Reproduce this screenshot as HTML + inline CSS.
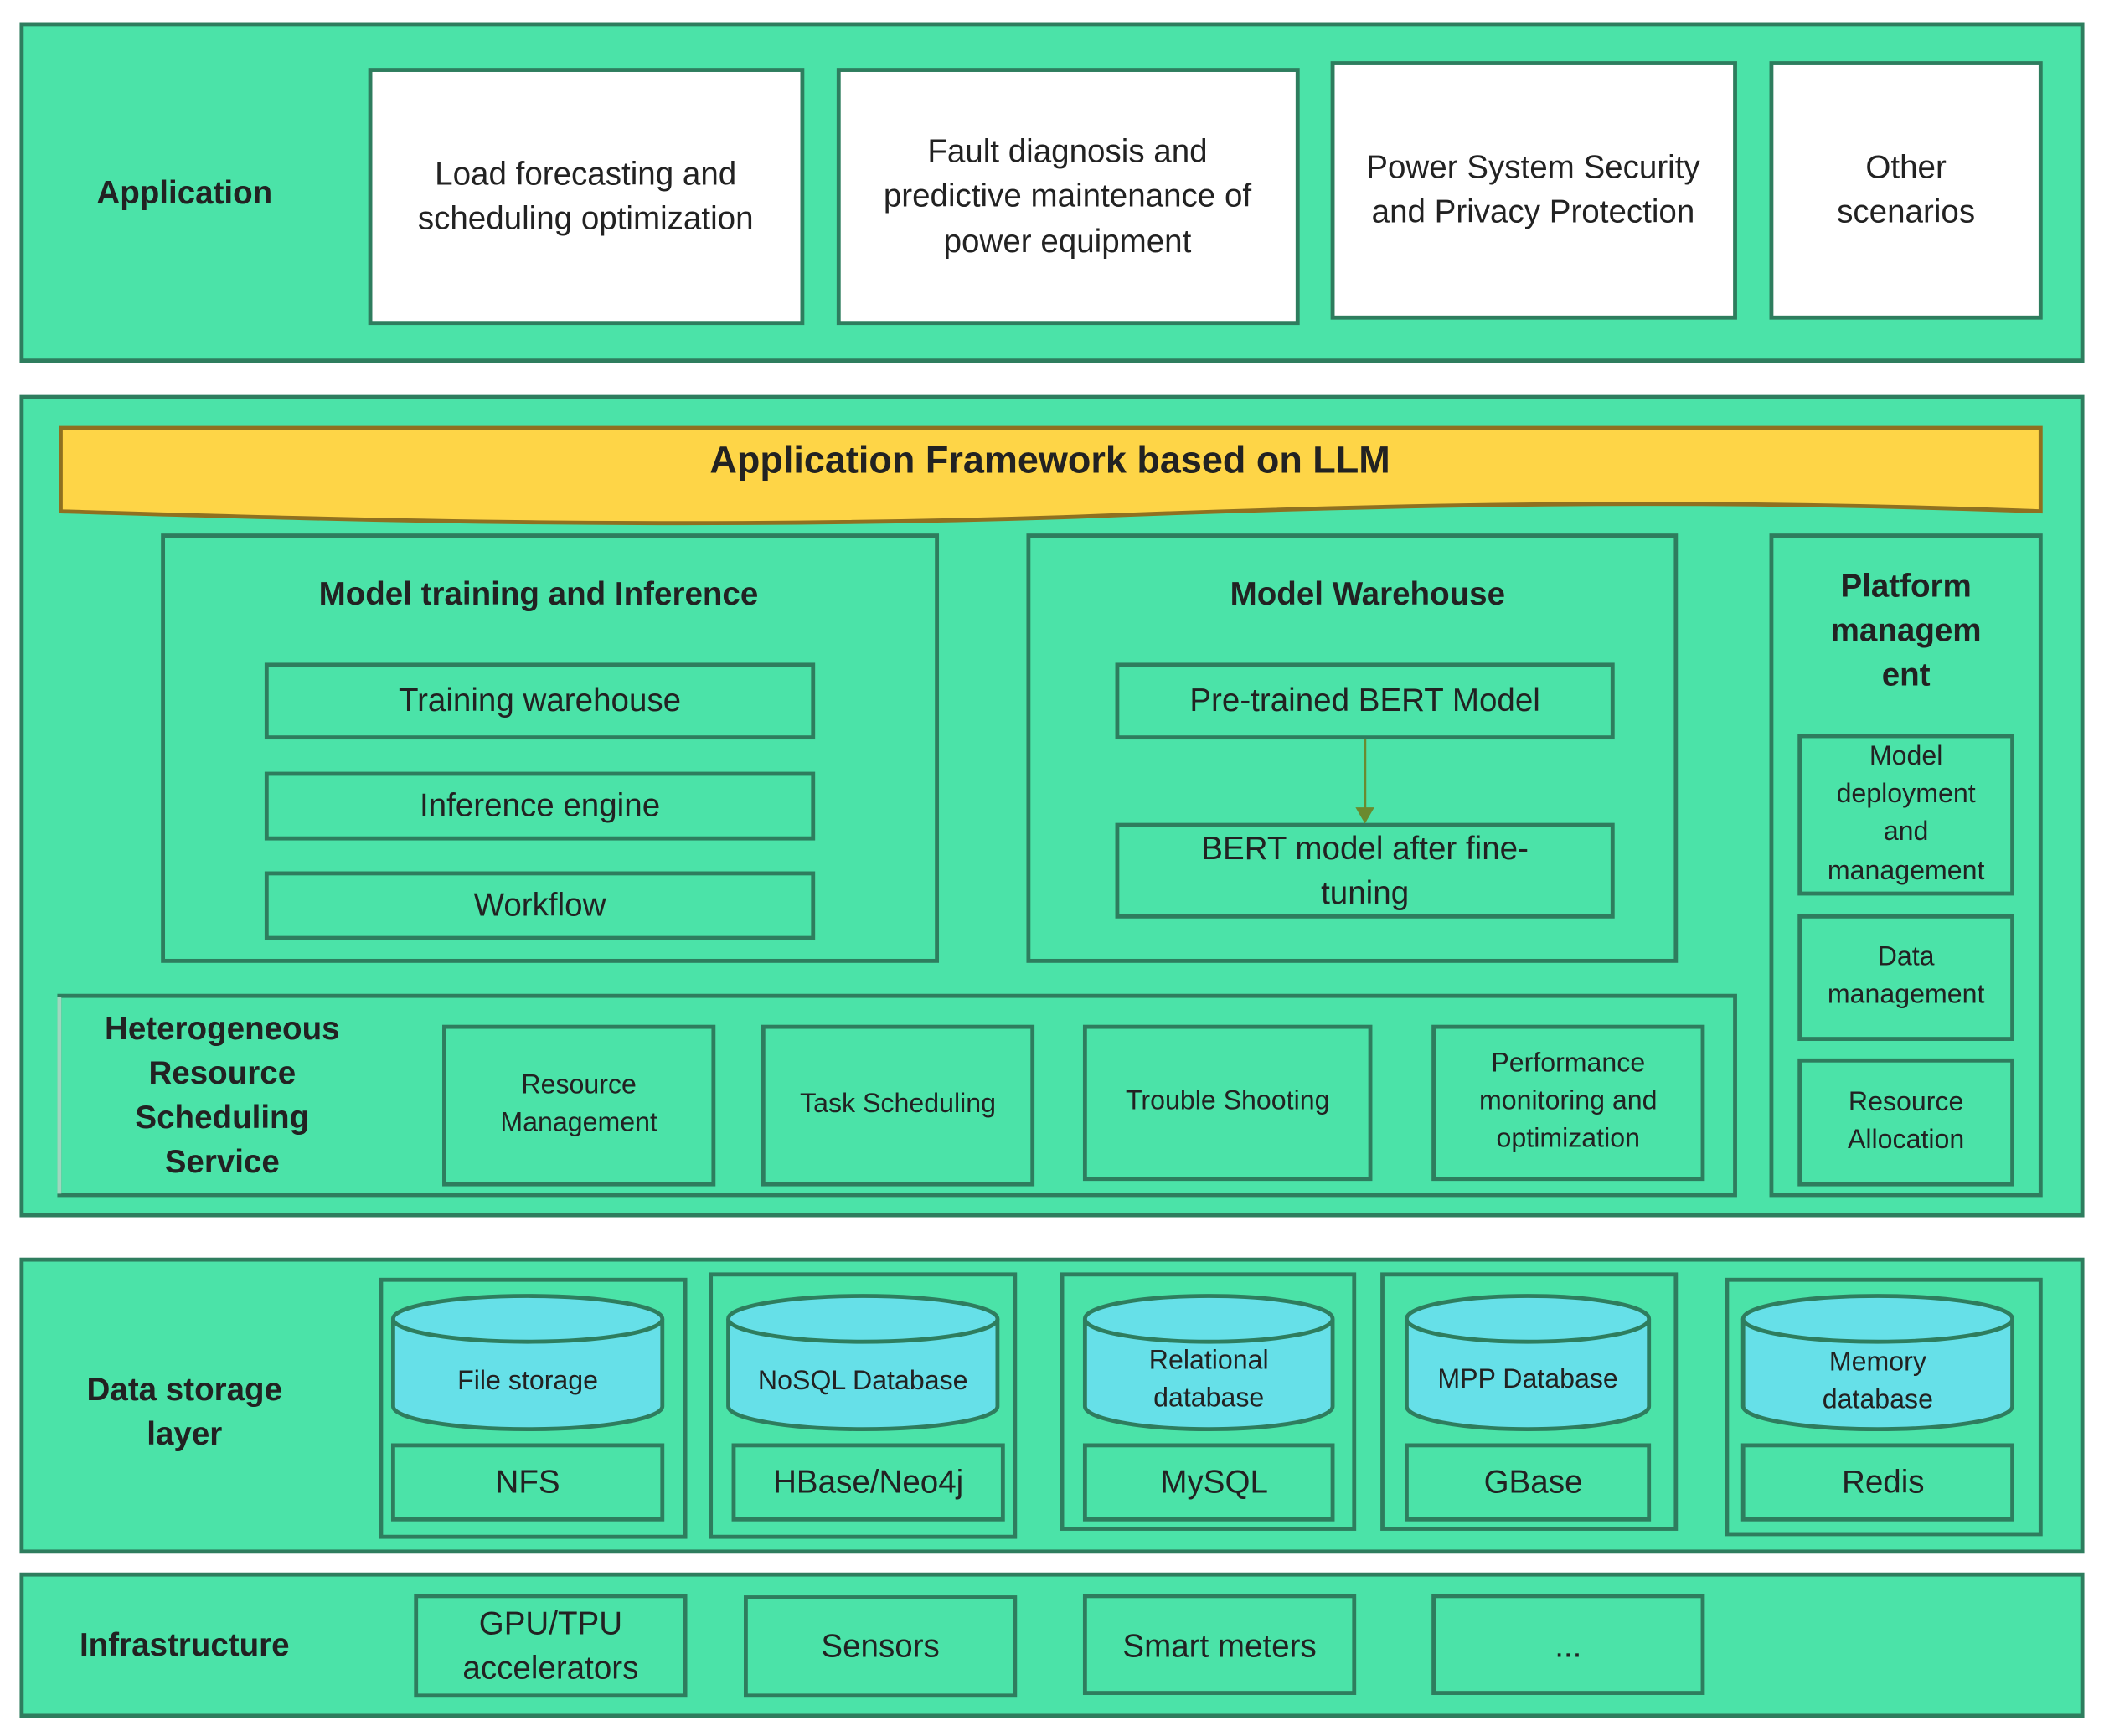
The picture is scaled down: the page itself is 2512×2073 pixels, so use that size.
<!DOCTYPE html>
<html><head><meta charset="utf-8"><style>
html,body{margin:0;padding:0;background:#fff}
svg{display:block}
text{font-family:"Liberation Sans","DejaVu Sans",sans-serif;fill:#222;text-anchor:middle;dominant-baseline:middle}
.b{font-weight:bold}
</style></head><body>
<svg width="2512" height="2073" viewBox="0 0 1563 1290" xmlns="http://www.w3.org/2000/svg">
<g fill="#4be3a8" stroke="#2e7d5e" stroke-width="3">
<rect x="16" y="18" width="1531" height="250"/>
<rect x="16" y="295" width="1531" height="608"/>
<rect x="16" y="936" width="1531" height="217"/>
<rect x="16" y="1170" width="1531" height="105"/>
</g>
<g fill="#fff" stroke="#2e7d5e" stroke-width="3">
<rect x="275" y="52" width="321" height="188"/>
<rect x="623" y="52" width="341" height="188"/>
<rect x="990" y="47" width="299" height="189"/>
<rect x="1316" y="47" width="200" height="189"/>
</g>
<text class="b" x="137" y="145" font-size="24">Application</text>
<text x="435" y="131" font-size="24">Load forecasting and</text>
<text x="435" y="164" font-size="24">scheduling optimization</text>
<text x="793" y="114" font-size="24">Fault diagnosis and</text>
<text x="793" y="147" font-size="24">predictive maintenance of</text>
<text x="793" y="181" font-size="24">power equipment</text>
<text x="1139" y="126" font-size="24">Power System Security</text>
<text x="1139" y="159" font-size="24">and Privacy Protection</text>
<text x="1416" y="126" font-size="24">Other</text>
<text x="1416" y="159" font-size="24">scenarios</text>

<path d="M45,318 L1516,318 L1516,380 C1300,372 1100,372 800,384 C500,394 250,386 45,380 Z" fill="#fed547" stroke="#8f7020" stroke-width="3"/>
<text class="b" x="780" y="344" font-size="28">Application Framework based on LLM</text>

<g fill="none" stroke="#2e7d5e" stroke-width="3">
<rect x="121" y="398" width="575" height="316"/>
<rect x="198" y="494" width="406" height="54"/>
<rect x="198" y="575" width="406" height="48"/>
<rect x="198" y="649" width="406" height="48"/>
<rect x="764" y="398" width="481" height="316"/>
<rect x="830" y="494" width="368" height="54"/>
<rect x="830" y="613" width="368" height="68"/>
<rect x="1316" y="398" width="200" height="490"/>
<rect x="1337" y="547" width="158" height="117"/>
<rect x="1337" y="681" width="158" height="91"/>
<rect x="1337" y="788" width="158" height="92"/>
<rect x="44" y="740" width="1245" height="148"/>
<rect x="330" y="763" width="200" height="117"/>
<rect x="567" y="763" width="200" height="117"/>
<rect x="806" y="763" width="212" height="113"/>
<rect x="1065" y="763" width="200" height="113"/>
</g>
<line x1="44" y1="741" x2="44" y2="887" stroke="#9fd8bf" stroke-width="3"/>
<text class="b" x="400" y="443" font-size="24">Model training and Inference</text>
<text x="401" y="522" font-size="24">Training  warehouse</text>
<text x="401" y="600" font-size="24">Inference engine</text>
<text x="401" y="674" font-size="24">Workflow</text>
<text class="b" x="1016" y="443" font-size="24">Model Warehouse</text>
<text x="1014" y="522" font-size="24">Pre-trained BERT Model</text>
<text x="1014" y="632" font-size="24">BERT model after fine-</text>
<text x="1014" y="665" font-size="24">tuning</text>
<line x1="1014" y1="549" x2="1014" y2="602" stroke="#6b8a2e" stroke-width="2"/>
<path d="M1007,600 L1021,600 L1014,612 Z" fill="#6b8a2e"/>
<text class="b" x="1416" y="437" font-size="24">Platform</text>
<text class="b" x="1416" y="470" font-size="24">managem</text>
<text class="b" x="1416" y="503" font-size="24">ent</text>
<text x="1416" y="563" font-size="20">Model</text>
<text x="1416" y="591" font-size="20">deployment</text>
<text x="1416" y="619" font-size="20">and</text>
<text x="1416" y="648" font-size="20">management</text>
<text x="1416" y="712" font-size="20">Data</text>
<text x="1416" y="740" font-size="20">management</text>
<text x="1416" y="820" font-size="20">Resource</text>
<text x="1416" y="848" font-size="20">Allocation</text>
<text class="b" x="165" y="766" font-size="24">Heterogeneous</text>
<text class="b" x="165" y="799" font-size="24">Resource</text>
<text class="b" x="165" y="832" font-size="24">Scheduling</text>
<text class="b" x="165" y="865" font-size="24">Service</text>
<text x="430" y="807" font-size="20">Resource</text>
<text x="430" y="835" font-size="20">Management</text>
<text x="667" y="821" font-size="20">Task Scheduling</text>
<text x="912" y="819" font-size="20">Trouble Shooting</text>
<text x="1165" y="791" font-size="20">Performance</text>
<text x="1165" y="819" font-size="20">monitoring and</text>
<text x="1165" y="847" font-size="20">optimization</text>

<text class="b" x="137" y="1034" font-size="24">Data storage</text>
<text class="b" x="137" y="1067" font-size="24">layer</text>
<g stroke="#2e7d5e" stroke-width="3" fill="none">
<rect x="283" y="951" width="226" height="191"/>
<rect x="528" y="947" width="226" height="195"/>
<rect x="789" y="947" width="217" height="189"/>
<rect x="1027" y="947" width="218" height="189"/>
<rect x="1283" y="951" width="233" height="189"/>
<rect x="292" y="1074" width="200" height="55"/>
<rect x="545" y="1074" width="200" height="55"/>
<rect x="806" y="1074" width="184" height="55"/>
<rect x="1045" y="1074" width="180" height="55"/>
<rect x="1295" y="1074" width="200" height="55"/>
</g>
<g fill="#66e0e8" stroke="#2e7d5e" stroke-width="3">
<path d="M292,980 L292,1045 A100,17 0 0 0 492,1045 L492,980"/><ellipse cx="392" cy="980" rx="100" ry="17"/>
<path d="M541,980 L541,1045 A100,17 0 0 0 741,1045 L741,980"/><ellipse cx="641" cy="980" rx="100" ry="17"/>
<path d="M806,980 L806,1045 A92,17 0 0 0 990,1045 L990,980"/><ellipse cx="898" cy="980" rx="92" ry="17"/>
<path d="M1045,980 L1045,1045 A90,17 0 0 0 1225,1045 L1225,980"/><ellipse cx="1135" cy="980" rx="90" ry="17"/>
<path d="M1295,980 L1295,1045 A100,17 0 0 0 1495,1045 L1495,980"/><ellipse cx="1395" cy="980" rx="100" ry="17"/>
</g>
<text x="392" y="1027" font-size="20">File storage</text>
<text x="641" y="1027" font-size="20">NoSQL Database</text>
<text x="898" y="1012" font-size="20">Relational</text>
<text x="898" y="1040" font-size="20">database</text>
<text x="1135" y="1026" font-size="20">MPP Database</text>
<text x="1395" y="1013" font-size="20">Memory</text>
<text x="1395" y="1041" font-size="20">database</text>
<text x="392" y="1103" font-size="24">NFS</text>
<text x="645" y="1103" font-size="24">HBase/Neo4j</text>
<text x="902" y="1103" font-size="24">MySQL</text>
<text x="1139" y="1103" font-size="24">GBase</text>
<text x="1399" y="1103" font-size="24">Redis</text>

<text class="b" x="137" y="1224" font-size="24">Infrastructure</text>
<g stroke="#2e7d5e" stroke-width="3" fill="none">
<rect x="309" y="1186" width="200" height="74"/>
<rect x="554" y="1187" width="200" height="73"/>
<rect x="806" y="1186" width="200" height="72"/>
<rect x="1065" y="1186" width="200" height="72"/>
</g>
<text x="409" y="1208" font-size="24">GPU/TPU</text>
<text x="409" y="1241" font-size="24">accelerators</text>
<text x="654" y="1225" font-size="24">Sensors</text>
<text x="906" y="1225" font-size="24">Smart meters</text>
<text x="1165" y="1225" font-size="24">...</text>
</svg>
</body></html>
